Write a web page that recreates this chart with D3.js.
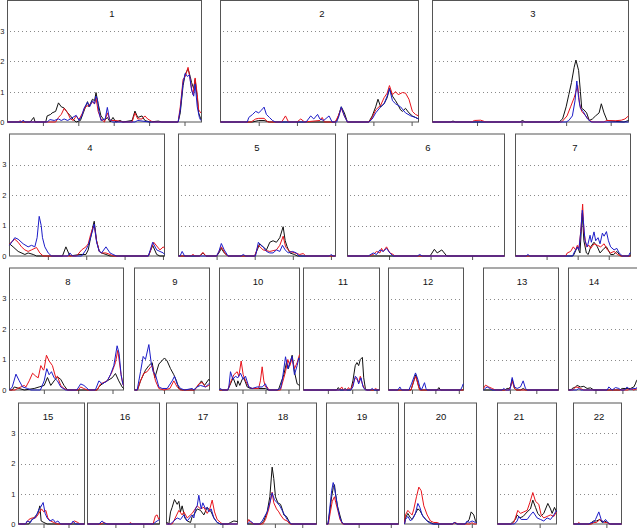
<!DOCTYPE html>
<html>
<head>
<meta charset="utf-8">
<script src="https://cdn.jsdelivr.net/npm/d3@7"></script>
<style>
  html, body { margin: 0; padding: 0; background: #fff; }
  svg { display: block; font-family: "Liberation Sans", Arial, sans-serif; }
</style>
</head>
<body>
<div id="chart"></div>
<script>
// Chromosome panels, three traces each (black, red, blue)
const chromosomes = ['1','2','3','4','5','6','7','8','9','10','11','12','13','14','15','16','17','18','19','20','21','22'];
// x extent of each panel (cM)
const chrLength = [274, 259, 220, 202, 206, 189, 185, 166, 127, 174, 156, 160, 142, 128, 132, 129, 127, 126, 112, 107, 70, 73];
const yTicks = [0, 1, 2, 3];
const yMax = 4;
const xTickStep = 50;

// [cM, value] points per chromosome
const seriesBlack = [
  [[0,0],[32,0],[37,0.15],[39,0],[54,0],[56,0.2],[61,0.25],[63,0.3],[68,0.35],[72,0.63],[76,0.5],[80,0.46],[85,0.3],[89,0.2],[93,0.08],[97,0],[103,0.05],[107,0.3],[113,0.67],[115,0.5],[120,0.75],[123,0.7],[125,0.97],[128,0.6],[132,0.2],[137,0.05],[141,0.15],[145,0],[149,0.15],[153,0],[159,0.05],[163,0],[176,0.05],[180,0.36],[184,0.15],[190,0.2],[194,0.05],[201,0],[213,0.03],[218,0],[241,0],[244,0.3],[248,1.2],[251,1.57],[255,1.75],[258,1.5],[260,1.3],[263,1.1],[265,1.4],[268,0.8],[270,0.3],[273,0.1]],
  [[0,0],[42,0],[50,0.05],[57,0.05],[64,0],[150,0],[153,0.1],[158,0.5],[162,0.3],[166,0],[194,0],[198.5,0.2],[203,0.5],[206,0.75],[209.5,0.5],[214,0.6],[218,0.8],[221,1.1],[225,0.85],[229,0.7],[232.5,0.55],[235.5,0.4],[238,0.35],[242,0.45],[246.5,0.3],[251,0.2],[255,0.15],[259,0.1]],
  [[0,0],[20,0],[23,0.03],[26,0],[98,0],[101,0.05],[104,0],[142,0],[146,0.1],[150,0.5],[153,0.9],[156,1.3],[159,1.8],[161,2.04],[164,1.7],[166,1.0],[167.5,0.45],[170,0.4],[173,0.3],[176,0.05],[179.5,0.1],[183,0.2],[187,0.3],[189.5,0.6],[192.5,0.3],[196,0.05],[205,0.02],[215,0],[220,0.05]],
  [[0,0.4],[4.7,0.3],[11.3,0.15],[20,0.05],[24.3,0.1],[30.9,0.05],[35.2,0],[69,0],[73.5,0.3],[78.7,0],[91.8,0.05],[99.6,0.05],[102.6,0.2],[105.7,0.6],[109,1.0],[110.4,1.14],[113.5,0.5],[117,0.15],[120,0.1],[125.7,0.05],[131,0],[181,0],[186.6,0.35],[191.8,0.05],[196,0],[202,0]],
  [[0,0],[28,0],[32,0.1],[36,0],[50,0],[53,0.1],[56.2,0.25],[60,0.1],[65,0],[100,0],[106.6,0.4],[111,0.3],[115.4,0.2],[119.8,0.45],[124.1,0.5],[128.5,0.45],[132.9,0.6],[137.3,0.96],[140,0.5],[142.6,0.3],[146,0.1],[152,0.05],[156,0],[206,0]],
  [[0,0],[99.4,0],[104.6,0.22],[108,0.1],[113.5,0.2],[119.5,0],[189,0]],
  [[0,0],[92,0],[94,0.05],[99.5,0.3],[103.7,0.1],[107.5,1.4],[110,0.5],[114,0.1],[117,0.05],[121,0.3],[126.3,0.45],[131.7,0.3],[136,0.1],[142.5,0.25],[146.3,0.3],[153,0.05],[158,0.05],[163,0.15],[167,0.05],[169.4,0],[185,0]],
  [[0,0],[4,0],[7,0.1],[14.2,0.05],[21.5,0],[36,0.05],[43.2,0.1],[50.5,0.15],[55.3,0.41],[60.1,0.15],[65,0.3],[69.8,0.43],[74.6,0.35],[79.4,0.15],[84.3,0],[127.7,0],[130,0.1],[135,0.2],[142.3,0.3],[149.5,0.4],[154.3,0.54],[159.1,0.3],[164,0.1],[166,0.05]],
  [[0,0],[5,0],[10.2,0.3],[18.6,0.65],[24.3,0.8],[29.9,0.9],[34.4,0.4],[41.2,0.85],[50.8,1.05],[55.3,0.95],[61,0.7],[66.6,0.5],[71.1,0.3],[75,0.05],[80.7,0],[100,0],[106,0.1],[113.4,0.3],[118.5,0.15],[125.8,0.35],[127,0.3]],
  [[0,0],[18,0],[23.9,0.2],[29.7,0.4],[37,0.1],[39.9,0.3],[44.2,0.15],[49.3,0.35],[52.9,0.4],[60.2,0.1],[67.4,0.05],[75,0.05],[85,0.05],[100,0.05],[107.3,0],[128,0],[132.7,0.2],[139.9,0.5],[145.7,0.9],[150,0.7],[158,1.14],[163,0.6],[168.9,0.2],[174,0.15]],
  [[0,0],[68,0],[71.5,0.08],[75,0],[82,0],[85.4,0.05],[89,0],[97,0],[101.4,0.3],[106.2,0.8],[109.7,0.9],[113.2,0.8],[116.6,1.0],[120.8,1.07],[123.6,0.4],[127,0.05],[130.5,0],[156,0]],
  [[0,0],[48,0],[54,0.3],[58.3,0.5],[61.2,0.3],[64.7,0.1],[68,0],[104,0],[107.4,0.08],[111,0],[160,0]],
  [[0,0],[40,0],[44.8,0.05],[48,0.05],[51.1,0.1],[54.3,0.35],[58.7,0.05],[63,0],[70,0],[75.1,0.05],[80,0],[142,0]],
  [[0,0],[4,0],[6.8,0.05],[13,0.1],[16,0.15],[22.3,0.1],[28.4,0.12],[34.6,0.05],[40.8,0.07],[47,0],[95,0],[99.6,0.05],[108.8,0.05],[115,0.05],[121.2,0.1],[124,0.2],[126.1,0.3],[128,0.35]],
  [[0,0],[20.7,0],[24,0.1],[30.7,0.2],[38.7,0.35],[42.7,0.6],[45.3,0.1],[50.7,0.05],[57.3,0],[132,0]],
  [[0,0],[129,0]],
  [[0,0.05],[1.2,0.05],[4.2,0],[7.2,0.4],[10.1,0.55],[14.3,0.81],[19.1,0.65],[22.1,0.75],[25,0.4],[28,0.6],[32.8,0.2],[37,0.1],[43,0.05],[45.9,0.25],[48.9,0.3],[54.9,0.5],[60.8,0.45],[66.8,0.3],[72.8,0.55],[79.9,0.4],[84.7,0.2],[90.6,0.05],[96.6,0],[110,0],[114.5,0.05],[120.5,0.1],[127,0.08]],
  [[0,0],[24,0],[29.8,0.1],[35.9,0.4],[40.8,0.9],[45,1.88],[48,1.5],[51.1,0.9],[55.4,0.7],[60.3,0.65],[63.3,0.5],[66.3,0.3],[71.2,0.25],[75.5,0.1],[78.5,0],[126,0]],
  [[0,0],[2,0],[5,0.4],[8,0.9],[10.5,1.2],[12.4,1.3],[14,1.0],[17,0.6],[20.7,0.3],[24,0.05],[27,0],[112,0]],
  [[0,0],[1.5,0.2],[4.95,0.35],[8.9,0.2],[11.4,0.15],[16.3,0.35],[19.8,0.5],[22.8,0.45],[27.7,0.25],[33.7,0.1],[38.6,0.05],[43.6,0],[71,0],[74.3,0.05],[78,0],[90,0],[93.1,0.05],[96.1,0.15],[99.1,0.4],[103,0.3],[105.5,0.1],[107,0.05]],
  [[0,0],[15.4,0],[17.4,0.05],[21.3,0.15],[23.3,0.3],[26.5,0.2],[30.4,0.25],[35.2,0.4],[39.1,0.5],[41.9,0.79],[45.1,0.55],[47.8,0.35],[51,0.25],[54.9,0.35],[59.7,0.68],[62.9,0.5],[64.8,0.35],[67.6,0.55],[70,0.4]],
  [[0,0],[26,0],[29.9,0.1],[35,0.1],[40.1,0.15],[43.6,0.05],[47.2,0.1],[51.2,0.05],[56.3,0],[73,0]]
];

const seriesRed = [
  [[0,0],[15,0],[18,0.04],[21,0],[68,0],[72,0.15],[76,0.25],[80,0.45],[85,0.3],[89,0.1],[93,0.05],[97,0.2],[101,0.08],[106,0.3],[110,0.5],[115,0.55],[120,0.65],[123,0.6],[125,0.8],[128,0.35],[132,0.1],[137,0],[141,0.3],[145,0.05],[153,0.05],[163,0],[176,0],[180,0.3],[184,0.1],[190,0.1],[194,0.2],[198,0.1],[205,0],[241,0],[244,0.5],[248,1.4],[251,1.5],[255,1.8],[258,1.4],[260,1.1],[262,0.9],[265,1.45],[268,0.9],[270,0.4],[273,0.3]],
  [[0,0],[40,0],[46,0.1],[50,0.12],[57,0.12],[62,0],[80,0],[85,0.2],[89,0],[100,0],[105,0.1],[110,0],[130,0.05],[133,0.15],[136,0],[150,0],[154,0.2],[158,0.45],[162,0.2],[166,0],[194,0],[198.5,0.15],[203,0.4],[209.5,0.55],[214,0.8],[218,0.95],[221,1.2],[225,0.9],[229,1.0],[232.5,0.9],[238,0.97],[242,0.95],[246.5,0.75],[251,0.35],[255,0.25],[259,0.2]],
  [[0,0],[44,0],[47,0.05],[54,0.06],[60,0],[145,0],[151,0.2],[155,0.5],[159,0.8],[163,1.2],[165,0.6],[167.5,0.35],[172,0.2],[176,0.05],[180,0],[192,0],[196,0.05],[205,0.04],[212,0.06],[216,0.1],[220,0.2]],
  [[0,0.4],[6.9,0.55],[11.3,0.45],[15.6,0.3],[20,0.2],[24.3,0.15],[28.7,0.2],[35.2,0.28],[39.5,0.1],[43.9,0],[87.4,0],[94,0.2],[99.6,0.3],[102.6,0.4],[105.7,0.7],[109,0.95],[110.4,1.0],[113.5,0.5],[117,0.15],[120,0.1],[125.7,0.1],[131,0.05],[135,0],[181,0],[188,0.45],[196,0.2],[200.5,0.3],[202,0.25]],
  [[0,0],[16,0],[19,0.05],[22,0],[28,0],[32,0.12],[36,0],[50,0],[56.2,0.3],[62,0.05],[65,0],[100,0],[104.8,0.35],[111,0.2],[119.8,0.15],[128.5,0.2],[132.9,0.35],[137.3,0.65],[140.5,0.3],[146,0.15],[152.7,0.1],[159,0.05],[163.6,0.08],[167,0],[206,0]],
  [[0,0],[25,0],[31,0.05],[35,0.15],[39,0.1],[41,0.25],[43,0.15],[47,0.3],[51,0.1],[55,0.05],[57,0],[189,0]],
  [[0,0],[80.6,0],[83.3,0.1],[88.7,0.15],[93,0.3],[96.8,0.2],[99.5,0.35],[102,0.25],[105,0.8],[108,1.7],[110,0.8],[114,0.3],[118.3,0.35],[121,0.25],[126.3,0.4],[131.7,0.35],[137,0.3],[142.5,0.4],[147.8,0.2],[153,0.1],[158.6,0.15],[164,0.05],[169.4,0],[185,0]],
  [[0,0],[8,0],[11.8,0.05],[21.5,0.15],[23.9,0.1],[28.7,0.3],[33.6,0.55],[38.4,0.45],[41.8,0.4],[45.6,0.8],[49.5,0.65],[50.5,0.7],[53.8,1.14],[57.7,0.95],[62.5,0.8],[67.4,0.4],[69.8,0.45],[74.6,0.15],[79.4,0.05],[84.3,0],[100,0],[103.6,0.1],[108,0.05],[113.3,0],[127.7,0],[132.6,0.2],[142.3,0.3],[149.5,0.6],[154.3,0.9],[157.7,1.3],[162.5,0.5],[165,0.2],[166,0.15]],
  [[0,0],[5,0],[10.2,0.3],[15.8,0.55],[21.4,0.6],[27.1,0.75],[29.9,0.8],[35.6,0.3],[41.2,0.05],[50,0],[60,0.05],[66.6,0.3],[72.2,0.1],[77.9,0],[102,0],[108.9,0.2],[114.6,0.25],[120.2,0.1],[125.8,0.15],[127,0.15]],
  [[0,0],[18,0],[23.9,0.25],[31.2,0.5],[38.4,0.6],[42.1,0.45],[47.1,0.95],[51.5,0.5],[56.6,0.3],[63.8,0.1],[71,0.05],[85,0.05],[89,0.3],[92.8,0.76],[96.4,0.3],[100,0.1],[103.7,0.1],[107.3,0],[132.7,0],[136.3,0.2],[143.6,0.6],[148.6,1.0],[153,0.8],[158,1.05],[163,0.7],[168.9,0.9],[174,1.16]],
  [[0,0],[74,0],[78.5,0.1],[82,0],[89,0],[92.4,0.08],[96,0],[99.3,0.1],[106.2,0.4],[109.7,0.35],[113.2,0.25],[116.6,0.45],[120.8,0.2],[125,0.05],[128,0],[144,0],[148,0.05],[152,0],[156,0]],
  [[0,0],[48,0],[54,0.3],[58.3,0.45],[62.6,0.2],[66,0],[160,0]],
  [[0,0.05],[3.8,0.16],[10,0.1],[16.4,0.05],[22.7,0],[48,0],[51.1,0.1],[54.3,0.3],[58.7,0.05],[62,0],[142,0]],
  [[0,0],[8,0],[13,0.1],[19.2,0.08],[22.3,0.05],[28,0],[110,0],[115,0.04],[121,0],[128,0.05]],
  [[0,0],[14,0],[20.7,0.15],[27.3,0.2],[34,0.2],[38.7,0.3],[42.7,0.4],[46,0.5],[50.7,0.4],[54.7,0.45],[58.7,0.2],[64,0.1],[70.7,0.05],[77.3,0],[105.3,0],[112,0.1],[118.7,0.05],[122.7,0],[132,0]],
  [[0,0],[24,0],[29.2,0.05],[35.2,0],[74,0],[77,0.05],[80,0],[117.5,0],[121.7,0.27],[124.7,0.3],[127.7,0.15],[129,0.2]],
  [[0,0],[10,0],[13.1,0.1],[22.1,0.45],[28,0.3],[31,0.4],[37,0.2],[45.9,0.35],[54.9,0.6],[60.8,0.5],[66.8,0.55],[72.8,0.35],[77.5,0.5],[81.7,0.79],[85.9,0.4],[90.6,0.15],[96.6,0.05],[100,0],[127,0]],
  [[0,0.05],[2.4,0.15],[6,0.05],[11.6,0],[28,0],[32.9,0.15],[38.9,0.5],[45,1.05],[48,0.7],[53,0.5],[57.2,0.4],[60.3,0.3],[66.3,0.15],[72.4,0.1],[77.3,0],[126,0]],
  [[0,0],[3,0],[6,0.4],[9,0.75],[12.4,0.9],[14.5,0.7],[17.6,0.45],[21,0.15],[25,0],[112,0]],
  [[0,0],[1.5,0.3],[4.95,0.45],[8.9,0.35],[11.4,0.3],[13.9,0.5],[17.8,0.9],[21.3,1.22],[24.8,1.1],[28.7,0.6],[33.7,0.3],[38.6,0.1],[43.6,0.05],[48.5,0.05],[53.5,0],[72,0],[75.8,0.05],[79,0],[98,0],[100,0.05],[103,0],[107,0]],
  [[0,0],[17,0],[19.4,0.05],[24.1,0.45],[27.3,0.35],[31.2,0.4],[35.2,0.45],[38.3,0.7],[41.9,1.04],[45.1,0.75],[49,0.65],[51.8,0.3],[54.9,0.2],[58.9,0.25],[62.9,0.3],[66.8,0.25],[70,0.4]],
  [[0,0],[5.6,0],[8.1,0.05],[10.6,0],[28,0],[30.9,0.05],[35,0.05],[40.1,0.15],[43.6,0.1],[47,0.05],[51.2,0.05],[54,0],[73,0]]
];

const seriesBlue = [
  [[0,0],[20,0],[22,0.06],[25,0],[56,0],[60,0.08],[66,0.05],[72,0.1],[76,0.05],[80,0.1],[85,0.05],[97,0.22],[101,0.05],[105,0.2],[108,0.45],[113,0.65],[116,0.5],[120,0.7],[123,0.6],[125,0.85],[127,0.75],[129,0.35],[132,0.05],[138,0.1],[141,0.48],[144,0.1],[148,0],[180,0],[184,0.05],[200,0],[241,0],[244,0.4],[248,1.3],[251,1.6],[254,1.5],[257,1.55],[260,1.05],[263,0.85],[265,1.25],[268,0.5],[271,0.15],[273,0.05]],
  [[0,0],[35,0],[37,0.15],[42,0.25],[46,0.35],[50,0.3],[54,0.4],[57,0.49],[60,0.25],[64,0.15],[68,0.05],[72,0],[112,0],[118,0.2],[122,0.1],[127,0.25],[130,0.1],[135,0.05],[142,0.2],[146,0],[152,0],[155,0.2],[158,0.5],[162,0.2],[166,0],[194,0],[198.5,0.1],[203,0.3],[209.5,0.5],[214,0.6],[218,0.85],[221,1.1],[225,0.7],[229,0.6],[235.5,0.5],[242,0.3],[249,0.2],[255,0.15],[259,0.1]],
  [[0,0],[150,0],[153,0.05],[157,0.2],[160,0.7],[162,1.35],[164,0.8],[166,0.45],[169,0.35],[174,0.1],[178,0],[220,0]],
  [[0,0.35],[6.9,0.6],[11.3,0.55],[17.8,0.4],[24.3,0.3],[28.7,0.35],[33,0.3],[36,0.6],[38.7,1.3],[41.3,1.0],[43,0.6],[46,0.3],[50.4,0.1],[54.8,0],[76,0],[78.7,0.1],[82,0],[94,0],[99.6,0.2],[102.6,0.35],[105.7,0.6],[109,0.9],[110.4,1.05],[113.5,0.45],[117,0.15],[120,0.1],[125.7,0.3],[131,0.1],[135,0.05],[139.6,0],[181,0],[186.6,0.45],[191.8,0.2],[196,0.15],[200.5,0.1],[202,0.05]],
  [[0,0],[2,0],[4.8,0.15],[8,0],[50,0],[53,0.15],[56.2,0.41],[60,0.2],[65,0],[82,0],[85,0.05],[88,0],[101,0],[104.8,0.45],[108,0.35],[111,0.3],[115.4,0.15],[119.8,0.1],[124.1,0.1],[128.5,0.2],[132.9,0.15],[136.4,0.35],[140,0.2],[144,0.1],[149.6,0.15],[154.8,0.1],[158,0],[198,0],[200,0.05],[203,0],[206,0]],
  [[0,0],[25,0],[31,0.1],[35,0.05],[39,0.2],[43,0.15],[47,0.25],[51,0.1],[55,0],[84,0],[87,0.05],[90,0],[189,0]],
  [[0,0],[17,0],[20,0.05],[23,0],[92,0],[94,0.1],[99.5,0.3],[102,0.2],[105,0.8],[107.5,1.5],[109,1.2],[111.8,0.5],[115.6,0.3],[119.9,0.68],[122,0.45],[126.3,0.79],[129,0.5],[132.8,0.6],[136,0.4],[139.8,0.75],[142.5,0.65],[146.3,0.8],[149.5,0.5],[153,0.3],[158.6,0.2],[163,0.25],[166.7,0.1],[172,0],[182,0],[184,0.1],[185,0.1]],
  [[0,0],[4,0.1],[9.4,0.52],[14.2,0.3],[19,0.1],[26.3,0.05],[31.2,0],[45,0],[50.5,0.3],[54.3,0.7],[57.7,0.5],[61.1,0.6],[65,0.4],[69.8,0.3],[74.6,0.1],[81.8,0],[98,0],[103.6,0.2],[108.4,0.15],[115.7,0],[125,0],[130.2,0.3],[135,0.2],[142.3,0.3],[147,0.5],[151.9,0.8],[156.7,1.45],[159.6,1.2],[162.5,0.5],[165,0.2],[166,0.15]],
  [[0,0],[4.5,0],[10.2,0.6],[14.7,1.1],[18.6,1.0],[24.3,1.49],[28.2,0.9],[31.6,0.6],[35.6,0.5],[41.2,0.1],[46.8,0.05],[55.3,0.05],[63.8,0.3],[67.7,0.45],[72.2,0.2],[77.9,0.05],[85,0],[97.6,0.05],[101,0],[106,0.1],[111.7,0.15],[120.2,0.1],[125.8,0.2],[127,0.2]],
  [[0,0],[2.2,0.05],[6,0],[18,0],[20.3,0.1],[23.9,0.6],[29,0.35],[34.8,0.45],[39.9,0.4],[45.7,0.55],[51.5,0.35],[56.6,0.45],[63.8,0.1],[71,0.05],[81.9,0.1],[92.8,0.1],[100,0.2],[103.7,0.05],[107.3,0],[125,0],[132.7,0.05],[136.3,0.3],[143.6,1.09],[148.6,0.7],[153,0.9],[158,1.1],[163,0.5],[168.9,0.8],[172.5,1.05],[174,1.0]],
  [[0,0],[97,0],[101.4,0.1],[106.2,0.45],[109.7,0.4],[113.2,0.2],[118,0.4],[122.2,0.1],[127,0],[137,0],[141,0.05],[145,0],[156,0]],
  [[0,0],[20,0],[24.2,0.1],[28,0],[43.4,0],[49,0.2],[57.6,0.56],[62.6,0.35],[66.8,0.1],[70,0],[73,0.1],[76.8,0.24],[80,0.05],[82,0],[153.6,0],[157,0.1],[159.3,0.2],[160,0.2]],
  [[0,0],[3,0.05],[6.9,0.1],[12,0.05],[16.4,0],[35,0],[38.5,0.05],[42,0],[50,0],[54.3,0.41],[58.7,0.1],[63.7,0.05],[70,0.1],[75.1,0.3],[79.5,0.05],[83,0],[142,0]],
  [[0,0],[15,0],[19.2,0.05],[23,0],[71.7,0],[74.8,0.1],[81,0],[87.2,0.08],[93.4,0.05],[97,0],[104,0],[108.8,0.1],[113,0.02],[121.2,0.05],[125,0.05],[128,0.1]],
  [[0,0],[14,0],[17.3,0.1],[24,0.05],[27.3,0.15],[33,0.2],[36,0.3],[41.3,0.5],[44,0.55],[49.3,0.71],[53.3,0.35],[57.3,0.2],[62.7,0.1],[69.3,0.15],[74,0.05],[78.7,0.1],[84,0],[105.3,0],[109.3,0.1],[114,0],[132,0]],
  [[0,0],[20.3,0],[26.3,0.1],[30,0.03],[35.2,0],[117.5,0],[121,0.05],[124.7,0.1],[127,0.12],[129,0.15]],
  [[0,0],[7,0],[10.1,0.05],[19.1,0.2],[25,0.15],[31,0.3],[37,0.1],[45.9,0.3],[48.9,0.2],[51.9,0.5],[54.9,0.6],[57.8,0.95],[62,0.5],[65,0.7],[69.8,0.5],[72.8,0.55],[75.7,0.4],[79.9,0.5],[84.7,0.2],[90.6,0.05],[96.6,0],[127,0]],
  [[0,0],[3,0.05],[5.5,0.1],[11.6,0],[22,0],[26.8,0.1],[35.9,0.4],[40.8,0.7],[45,1.03],[49.3,0.8],[54.2,0.7],[59,0.6],[63.3,0.45],[67.6,0.3],[72.4,0.15],[77.3,0.05],[80,0],[126,0]],
  [[0,0],[2.5,0],[5,0.5],[8,1.1],[10.4,1.37],[12,1.25],[14,1.0],[17.6,0.5],[21,0.2],[24,0.05],[27,0],[112,0]],
  [[0,0],[1.5,0.15],[4.95,0.25],[8.9,0.1],[12.9,0.2],[16.3,0.35],[19.8,0.68],[22.8,0.55],[26.2,0.3],[31.2,0.15],[36.2,0.05],[41.1,0],[71,0],[74.3,0.05],[78,0],[90,0],[93.1,0.1],[96,0.05],[100.6,0.1],[105.5,0.05],[107,0.05]],
  [[0,0],[20,0],[23.3,0.1],[25.3,0.25],[28.1,0.15],[35.2,0.15],[39.1,0.3],[42.3,0.4],[47,0.2],[51,0.15],[54.9,0.1],[58.9,0.2],[62.9,0.15],[66.8,0.3],[70,0.45]],
  [[0,0],[23.3,0],[26.9,0.05],[30,0.05],[33.5,0.15],[38.5,0.4],[42.1,0.15],[45.1,0.05],[48.7,0.15],[52.2,0.05],[55,0],[73,0]]
];

// --- layout (pixels) ---
const W = 637, H = 528;
const rows = [
  { top: 0.5, bottom: 122 },
  { top: 134, bottom: 256 },
  { top: 268, bottom: 390 },
  { top: 403, bottom: 524 }
];
// panel boxes: row index, left, right, title x
const panels = [
  { row: 0, x0: 7,   x1: 201, tx: 112 },
  { row: 0, x0: 220, x1: 418, tx: 322 },
  { row: 0, x0: 432, x1: 628, tx: 533 },
  { row: 1, x0: 9,   x1: 164, tx: 90 },
  { row: 1, x0: 178, x1: 335, tx: 257 },
  { row: 1, x0: 347, x1: 504, tx: 428 },
  { row: 1, x0: 515, x1: 630, tx: 575 },
  { row: 2, x0: 9,   x1: 123, tx: 68 },
  { row: 2, x0: 134, x1: 209, tx: 175 },
  { row: 2, x0: 219, x1: 299, tx: 258 },
  { row: 2, x0: 303, x1: 379, tx: 343 },
  { row: 2, x0: 388, x1: 463, tx: 428 },
  { row: 2, x0: 483, x1: 558, tx: 522 },
  { row: 2, x0: 568, x1: 637, tx: 594 },
  { row: 3, x0: 18,  x1: 84,  tx: 48 },
  { row: 3, x0: 87,  x1: 159, tx: 125 },
  { row: 3, x0: 166, x1: 237, tx: 203 },
  { row: 3, x0: 247, x1: 316, tx: 283 },
  { row: 3, x0: 326, x1: 398, tx: 362 },
  { row: 3, x0: 404, x1: 476, tx: 441 },
  { row: 3, x0: 497, x1: 556, tx: 519 },
  { row: 3, x0: 573, x1: 621, tx: 599 }
];
const colors = ['#111111', '#e8141c', '#1c1cc8'];
const boxColor = '#555';

const svg = d3.select('#chart').append('svg')
  .attr('width', W)
  .attr('height', H);

chromosomes.forEach((chr, i) => {
  const p = panels[i];
  const r = rows[p.row];
  const x = d3.scaleLinear().domain([0, chrLength[i]]).range([p.x0, p.x1]);
  const y = d3.scaleLinear().domain([0, yMax]).range([r.bottom, r.top]);
  const g = svg.append('g');

  // box
  g.append('rect')
    .attr('x', p.x0 + 0.5)
    .attr('y', r.top)
    .attr('width', p.x1 - p.x0)
    .attr('height', r.bottom - r.top)
    .attr('fill', 'none')
    .attr('stroke', boxColor)
    .attr('stroke-width', 1);

  // dotted gridlines
  g.selectAll('line.grid')
    .data(yTicks.filter(t => t > 0))
    .join('line')
    .attr('class', 'grid')
    .attr('x1', p.x0 + 3)
    .attr('x2', p.x1 - 3)
    .attr('y1', d => Math.round(y(d)) + 0.5)
    .attr('y2', d => Math.round(y(d)) + 0.5)
    .attr('stroke', '#8a8a8a')
    .attr('stroke-width', 1)
    .attr('stroke-dasharray', '1,3');

  // x ticks
  const xt = d3.range(xTickStep, chrLength[i], xTickStep);
  const xAxis = d3.axisBottom(x).tickValues(xt).tickSize(4).tickFormat('');
  const xg = g.append('g')
    .attr('transform', `translate(0.5,${r.bottom})`)
    .call(xAxis);
  xg.select('.domain').remove();
  xg.selectAll('.tick line').attr('stroke', boxColor);

  // y labels only on first panel of a row
  if (i === 0 || panels[i - 1].row !== p.row) {
    const yAxis = d3.axisLeft(y).tickValues(yTicks).tickSize(0).tickPadding(2.5)
      .tickFormat(d3.format('d'));
    const yg = g.append('g')
      .attr('transform', `translate(${p.x0},0)`)
      .call(yAxis);
    yg.select('.domain').remove();
    yg.selectAll('text')
      .attr('font-size', 7.5)
      .attr('font-family', '"Liberation Sans", Arial, sans-serif')
      .attr('fill', '#222');
  }

  // title
  g.append('text')
    .attr('x', p.tx)
    .attr('y', r.top + 16.5)
    .attr('text-anchor', 'middle')
    .attr('font-size', 9.5)
    .attr('fill', '#111')
    .text(chr);

  // traces
  const line = d3.line().x(d => x(d[0]) + 0.5).y(d => y(d[1]));
  [seriesBlack[i], seriesRed[i], seriesBlue[i]].forEach((s, k) => {
    g.append('path')
      .datum(s)
      .attr('d', line)
      .attr('fill', 'none')
      .attr('stroke', colors[k])
      .attr('stroke-width', 1)
      .attr('stroke-linejoin', 'round');
  });
});
</script>
</body>
</html>
